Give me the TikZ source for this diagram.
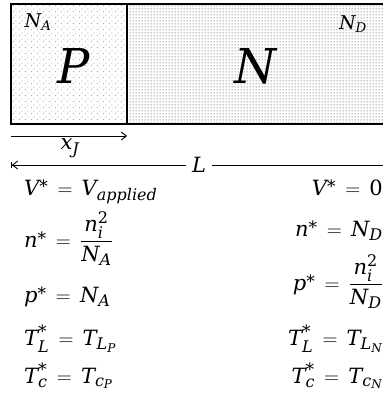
\documentclass[tikz,border=0pt]{standalone}
\usepackage{amsmath}
\usepackage{fontspec}
\setmainfont{DejaVu Serif}
\usetikzlibrary{arrows.meta,patterns}
\DeclareMathSizes{21}{21}{16}{12}
\newcommand\mv[1]{\mathit{#1}}
\newcommand\eqs{\mskip 3mu\mathrel{\mathrm{=}}\mskip 3mu}
\newcommand\st{^{\raisebox{-6pt}{\fontsize{17}{17}\selectfont *}}}
\pgfdeclarepatternformonly{sparsedots}{\pgfpointorigin}{\pgfqpoint{6pt}{6pt}}{\pgfqpoint{6pt}{6pt}}{%
  \pgfpathcircle{\pgfqpoint{1.5pt}{1.5pt}}{0.55pt}%
  \pgfpathcircle{\pgfqpoint{4.5pt}{4.5pt}}{0.55pt}%
  \pgfusepath{fill}}
\pgfdeclarepatternformonly{densedots}{\pgfpointorigin}{\pgfqpoint{3pt}{3pt}}{\pgfqpoint{3pt}{3pt}}{%
  \pgfpathcircle{\pgfqpoint{1.5pt}{1.5pt}}{0.7pt}%
  \pgfusepath{fill}}
\tikzset{
  region/.style={draw=black, line width=1.1pt},
  eq/.style={inner sep=0pt, font=\fontsize{21}{25}\selectfont},
  lab/.style={inner sep=0pt, font=\fontsize{19}{23}\selectfont},
  big/.style={inner sep=0pt, font=\fontsize{48}{52}\selectfont},
  conn/.style={line width=0.9pt},
}
\begin{document}
\begin{tikzpicture}[x=1pt,y=-1pt]
\useasboundingbox (0,0) rectangle (383,397);
% regions
\path[region, pattern=sparsedots, pattern color=black!55] (11,4) rectangle (127,124);
\path[region, pattern=densedots, pattern color=black!60] (127,4) rectangle (392,124);
\node[lab] (na) at (38,22) {$\mv{N}_{\mv{A}}$};
\node[big] (pl) at (74,66) {$\mv{P}$};
\node[big] (nl) at (255,66) {$\mv{N}$};
\node[lab] (nd) at (353,24) {$\mv{N}_{\mv{D}}$};
% xJ arrow
\coordinate (xa) at (11,136);
\coordinate (xb) at (127,136);
\draw[conn, -{Straight Barb[length=5pt,width=8pt]}] (xa) -- (xb);
\node[eq] (xj) at (70,148) {$\mv{x}_{\mv{J}}$};
% L dimension
\coordinate (la) at (11,165);
\coordinate (lb) at (384,165);
\node[eq, fill=white, inner xsep=6pt] (lt) at (199,165) {$\mv{L}$};
\draw[conn, {Bar[width=6pt]Straight Barb[length=5pt,width=8pt]}-] (la) -- (lt.west);
\draw[conn] (lt.east) -- (lb);
% left equations
\node[eq, anchor=base west] (l1) at (24,195) {$\mv{V}\st \eqs \mv{V}_{\mv{applied}}$};
\node[eq, anchor=base west] (l2) at (24,247) {$\mv{n}\st \eqs \dfrac{\mv{n}_{\mv{i}}^{\mathrm{2}}}{\mv{N}_{\mv{A}}}$};
\node[eq, anchor=base west] (l3) at (24,302) {$\mv{p}\st \eqs \mv{N}_{\mv{A}}$};
\node[eq, anchor=base west] (l4) at (24,345) {$\mv{T}_{\mv{L}}\st \eqs \mv{T}_{\mv{L}_{\mv{P}}}$};
\node[eq, anchor=base west] (l5) at (24,383) {$\mv{T}_{\mv{c}}\st \eqs \mv{T}_{\mv{c}_{\mv{P}}}$};
% right equations
\node[eq, anchor=base east] (r1) at (383,195) {$\mv{V}\st \eqs \mathrm{0}$};
\node[eq, anchor=base east] (r2) at (383,236) {$\mv{n}\st \eqs \mv{N}_{\mv{D}}$};
\node[eq, anchor=base east] (r3) at (383,290) {$\mv{p}\st \eqs \dfrac{\mv{n}_{\mv{i}}^{\mathrm{2}}}{\mv{N}_{\mv{D}}}$};
\node[eq, anchor=base east] (r4) at (383,345) {$\mv{T}_{\mv{L}}\st \eqs \mv{T}_{\mv{L}_{\mv{N}}}$};
\node[eq, anchor=base east] (r5) at (383,383) {$\mv{T}_{\mv{c}}\st \eqs \mv{T}_{\mv{c}_{\mv{N}}}$};
\end{tikzpicture}
\end{document}
